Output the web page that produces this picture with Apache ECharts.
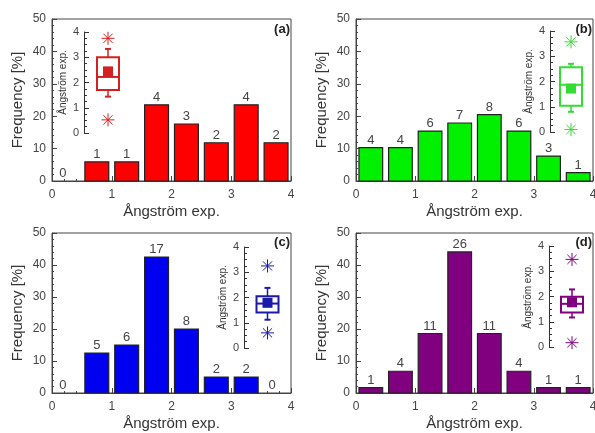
<!DOCTYPE html>
<html>
<head>
<meta charset="utf-8">
<script src="https://cdn.jsdelivr.net/npm/echarts@6/dist/echarts.min.js"></script>
<style>
html, body { margin: 0; padding: 0; background: #fff; }
#chart { width: 595px; height: 433px; }
</style>
</head>
<body>
<div id="chart"></div>
<script>
// 直方图分箱中心 (Ångström exp.)
var binCenters = [0.25, 0.75, 1.25, 1.75, 2.25, 2.75, 3.25, 3.75];

// 柱顶的样本数
var countsA = [0, 1, 1, 4, 3, 2, 4, 2];
var countsB = [4, 4, 6, 7, 8, 6, 3, 1];
var countsC = [0, 5, 6, 17, 8, 2, 2, 0];
var countsD = [1, 4, 11, 26, 11, 4, 1, 1];

// 频率 [%]
var freqA = [0, 5.9, 5.9, 23.5, 17.6, 11.8, 23.5, 11.8];
var freqB = [10.3, 10.3, 15.4, 17.9, 20.5, 15.4, 7.7, 2.6];
var freqC = [0, 12.5, 15, 42.5, 20, 5, 5, 0];
var freqD = [1.7, 6.8, 18.6, 44.1, 18.6, 6.8, 1.7, 1.7];

// 小图箱线: [低异常, 下须, Q1, 中位数, Q3, 上须, 高异常, 均值]
var boxA = [0.52, 1.44, 1.70, 2.22, 3.00, 3.33, 3.75, 2.44];
var boxB = [0.10, 0.80, 1.04, 1.87, 2.56, 2.70, 3.57, 1.72];
var boxC = [0.60, 1.12, 1.41, 1.76, 2.05, 2.38, 3.25, 1.79];
var boxD = [0.17, 1.17, 1.37, 1.71, 1.99, 2.28, 3.47, 1.77];

var panelLabels = ["(a)", "(b)", "(c)", "(d)"];

var FONT = "Liberation Sans, Arial, sans-serif";
var AXIS_COLOR = "#444";
var BAR_HALF = 0.2; // 柱宽的一半 (数据单位)

var chart = echarts.init(document.getElementById("chart"));

// 主图网格位置
var mainGrids = [
	{ left: 52, top: 19, width: 239, height: 162 },
	{ left: 356, top: 19, width: 237, height: 162 },
	{ left: 52, top: 233, width: 239, height: 160 },
	{ left: 356, top: 233, width: 237, height: 160 }
];
// 小图网格位置
var insetGrids = [
	{ left: 84, top: 32, width: 48, height: 101 },
	{ left: 550, top: 31, width: 42, height: 101 },
	{ left: 244, top: 247, width: 47, height: 101 },
	{ left: 549, top: 246, width: 46, height: 101 }
];

var barColors = ["#ff0000", "#00f000", "#0000f0", "#800080"];
var boxColors = ["#d42020", "#33dd33", "#1a1aa8", "#800080"];

function mainXAxis(i) {
	return {
		gridIndex: i, type: "value", min: 0, max: 4, interval: 1,
		name: "Ångström exp.", nameLocation: "middle", nameGap: 23,
		nameTextStyle: { color: "#333", fontSize: 15, fontFamily: FONT },
		axisLine: { lineStyle: { color: AXIS_COLOR, width: 1 } },
		axisTick: { inside: true, length: 5, lineStyle: { color: AXIS_COLOR } },
		minorTick: { show: true, splitNumber: 5, length: 2, lineStyle: { color: AXIS_COLOR } },
		axisLabel: { color: "#444", fontSize: 12, fontFamily: FONT, margin: 8 },
		splitLine: { show: false }
	};
}

function mainYAxis(i) {
	return {
		gridIndex: i, type: "value", min: 0, max: 50, interval: 10,
		name: "Frequency [%]", nameLocation: "middle", nameGap: 27,
		nameTextStyle: { color: "#333", fontSize: 15, fontFamily: FONT },
		axisLine: { show: true, onZero: false, lineStyle: { color: AXIS_COLOR, width: 1 } },
		axisTick: { inside: true, length: 5, lineStyle: { color: AXIS_COLOR } },
		minorTick: { show: true, splitNumber: 5, length: 2, lineStyle: { color: AXIS_COLOR } },
		axisLabel: { color: "#444", fontSize: 12, fontFamily: FONT, margin: 6 },
		splitLine: { show: false }
	};
}

function insetXAxis(i) {
	return { gridIndex: i, type: "value", min: -1, max: 1, show: false };
}

function insetYAxis(i) {
	return {
		gridIndex: i, type: "value", min: 0, max: 4, interval: 1, position: "left",
		name: "Ångström exp.", nameLocation: "middle", nameGap: 16,
		nameTextStyle: { color: "#333", fontSize: 10, fontFamily: FONT },
		axisLine: { show: true, onZero: false, lineStyle: { color: "#333", width: 1 } },
		axisTick: { inside: true, length: 5, lineStyle: { color: "#333" } },
		minorTick: { show: true, splitNumber: 4, length: 3, lineStyle: { color: "#333" } },
		axisLabel: { color: "#444", fontSize: 11, fontFamily: FONT, margin: 5 },
		splitLine: { show: false }
	};
}

function barSeries(i, freq, counts) {
	return {
		type: "custom", xAxisIndex: i, yAxisIndex: i,
		data: binCenters.map(function (c, k) { return [c, freq[k], counts[k]]; }),
		encode: { x: 0, y: 1 },
		renderItem: function (params, api) {
			var x = api.value(0), y = api.value(1);
			var p0 = api.coord([x - BAR_HALF, y]);
			var p1 = api.coord([x + BAR_HALF, 0]);
			var children = [];
			if (y > 0) {
				children.push({
					type: "rect",
					shape: { x: p0[0], y: p0[1], width: p1[0] - p0[0], height: p1[1] - p0[1] },
					style: { fill: barColors[i], stroke: "#222", lineWidth: 1.2 }
				});
			}
			children.push({
				type: "text",
				x: (p0[0] + p1[0]) / 2 - (y > 0 ? 0 : 4), y: p0[1] - 1,
				style: { text: String(api.value(2)), fill: "#444", font: "13px " + FONT, align: "center", verticalAlign: "bottom" }
			});
			return { type: "group", children: children };
		}
	};
}

function star(cx, cy, r, color) {
	var d = r * 0.7071;
	return [
		[cx - r, cy, cx + r, cy], [cx, cy - r, cx, cy + r],
		[cx - d, cy - d, cx + d, cy + d], [cx - d, cy + d, cx + d, cy - d]
	].map(function (s) {
		return { type: "line", shape: { x1: s[0], y1: s[1], x2: s[2], y2: s[3] }, style: { stroke: color, lineWidth: 1 } };
	});
}

function boxSeries(i, s) {
	var color = boxColors[i];
	return {
		type: "custom", xAxisIndex: 4 + i, yAxisIndex: 4 + i,
		data: [[0].concat(s)],
		encode: { x: 0, y: [1, 2, 3, 4, 5, 6, 7, 8] },
		renderItem: function (params, api) {
			var y = function (k) { return api.coord([0, api.value(k)])[1]; };
			var cx = api.coord([0, 0])[0];
			var hw = 11, cap = 3;
			var yLo = y(1), wLo = y(2), q1 = y(3), med = y(4), q3 = y(5), wHi = y(6), yHi = y(7), mean = y(8);
			var ln = function (x1, y1, x2, y2, w) {
				return { type: "line", shape: { x1: x1, y1: y1, x2: x2, y2: y2 }, style: { stroke: color, lineWidth: w } };
			};
			var children = [
				{ type: "rect", shape: { x: cx - hw, y: q3, width: 2 * hw, height: q1 - q3 }, style: { fill: "none", stroke: color, lineWidth: 2 } },
				ln(cx - hw, med, cx + hw, med, 2),
				ln(cx, q3, cx, wHi, 1.5), ln(cx - cap, wHi, cx + cap, wHi, 2),
				ln(cx, q1, cx, wLo, 1.5), ln(cx - cap, wLo, cx + cap, wLo, 2),
				{ type: "rect", shape: { x: cx - 5, y: mean - 5, width: 10, height: 10 }, style: { fill: color } }
			];
			children = children.concat(star(cx, yLo, 6.5, color), star(cx, yHi, 6.5, color));
			return { type: "group", children: children };
		}
	};
}

var grids = [], xAxes = [], yAxes = [];
mainGrids.forEach(function (g, i) {
	grids.push(Object.assign({ show: true, borderColor: AXIS_COLOR, borderWidth: 1, outerBoundsMode: "none" }, g));
	xAxes.push(mainXAxis(i));
	yAxes.push(mainYAxis(i));
});
insetGrids.forEach(function (g, i) {
	grids.push(Object.assign({ show: false, outerBoundsMode: "none" }, g));
	xAxes.push(insetXAxis(4 + i));
	yAxes.push(insetYAxis(4 + i));
});

var labelPos = [[290, 29], [592, 29], [290, 242], [592, 242]];

chart.setOption({
	backgroundColor: "#fff",
	animation: false,
	grid: grids,
	xAxis: xAxes,
	yAxis: yAxes,
	graphic: panelLabels.map(function (t, i) {
		return {
			type: "text", x: labelPos[i][0], y: labelPos[i][1],
			style: { text: t, fill: "#222", font: "bold 13px " + FONT, align: "right", verticalAlign: "middle" }
		};
	}),
	series: [
		barSeries(0, freqA, countsA),
		barSeries(1, freqB, countsB),
		barSeries(2, freqC, countsC),
		barSeries(3, freqD, countsD),
		boxSeries(0, boxA),
		boxSeries(1, boxB),
		boxSeries(2, boxC),
		boxSeries(3, boxD)
	]
});
</script>
</body>
</html>
